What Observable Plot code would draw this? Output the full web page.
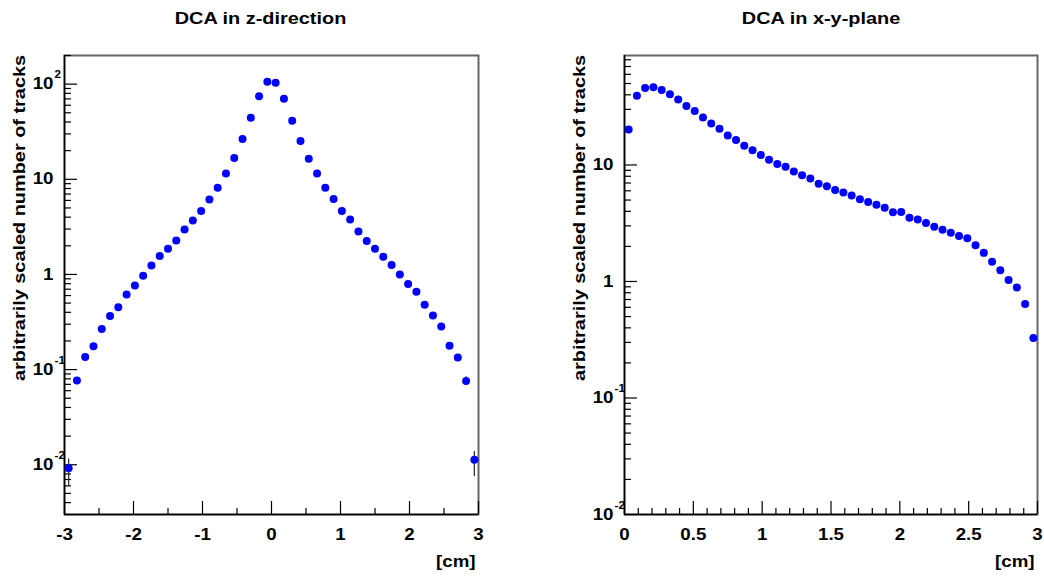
<!DOCTYPE html>
<html><head><meta charset="utf-8">
<script src="https://cdn.jsdelivr.net/npm/d3@7"></script>
<script src="https://cdn.jsdelivr.net/npm/@observablehq/plot@0.6"></script>
<style>
html,body{margin:0;padding:0;background:#fff;}
#wrap{display:flex;width:1044px;height:576px;}
svg text{font-family:"Liberation Sans",Arial,Helvetica,sans-serif;font-weight:bold;}
</style></head>
<body><div id="wrap"></div>
<script>
// ---------- data ----------
const zX = [-2.94,-2.82,-2.70,-2.58,-2.46,-2.34,-2.22,-2.10,-1.98,-1.86,-1.74,-1.62,-1.50,-1.38,-1.26,-1.14,-1.02,-0.90,-0.78,-0.66,-0.54,-0.42,-0.30,-0.18,-0.06,0.06,0.18,0.30,0.42,0.54,0.66,0.78,0.90,1.02,1.14,1.26,1.38,1.50,1.62,1.74,1.86,1.98,2.10,2.22,2.34,2.46,2.58,2.70,2.82,2.94];
const zY = [0.0092,0.077,0.136,0.176,0.267,0.365,0.451,0.614,0.767,0.966,1.24,1.56,1.86,2.28,2.97,3.68,4.63,6.14,8.16,11.5,16.7,26.5,44.3,74.7,106,103.6,70.2,41.3,25.3,16.4,11.5,8.16,6.2,4.63,3.78,2.82,2.24,1.86,1.53,1.26,1.0,0.794,0.659,0.48,0.371,0.284,0.178,0.134,0.076,0.0113];
const zErrX = [-2.94, 2.82, 2.94];
const zErrLo = [0.0060, 0.068, 0.0075];
const zErrHi = [0.0115, 0.084, 0.0138];

const xyX = [0.03,0.09,0.15,0.21,0.27,0.33,0.39,0.45,0.51,0.57,0.63,0.69,0.75,0.81,0.87,0.93,0.99,1.05,1.11,1.17,1.23,1.29,1.35,1.41,1.47,1.53,1.59,1.65,1.71,1.77,1.83,1.89,1.95,2.01,2.07,2.13,2.19,2.25,2.31,2.37,2.43,2.49,2.55,2.61,2.67,2.73,2.79,2.85,2.91,2.97];
const xyY = [20.2,39.3,45.7,46.4,44.1,40.4,36.5,32.0,29.1,25.5,22.7,20.5,17.9,16.4,14.6,13.4,12.2,11.1,10.2,9.64,8.77,8.16,7.64,6.9,6.56,6.1,5.79,5.47,5.08,4.8,4.56,4.3,3.92,3.95,3.53,3.41,3.17,2.95,2.78,2.62,2.46,2.35,2.05,1.76,1.48,1.25,1.03,0.889,0.64,0.328];

// tick labels
const zXTicks = [-3,-2,-1,0,1,2,3];
const zXTickLabels = ["-3","-2","-1","0","1","2","3"];
const zXMinor = [-2.5,-1.5,-0.5,0.5,1.5,2.5];
const zYTicks = [0.01,0.1,1,10,100];
const zYBase = ["10","10","1","10","10"];
const zYExp = ["-2","-1","","","2"];
const zYMinor = [0.003,0.004,0.005,0.006,0.007,0.008,0.009,0.02,0.03,0.04,0.05,0.06,0.07,0.08,0.09,0.2,0.3,0.4,0.5,0.6,0.7,0.8,0.9,2,3,4,5,6,7,8,9,20,30,40,50,60,70,80,90,200];

const xyXTicks = [0,0.5,1,1.5,2,2.5,3];
const xyXTickLabels = ["0","0.5","1","1.5","2","2.5","3"];
const xyXMinor = [0.1,0.2,0.3,0.4,0.6,0.7,0.8,0.9,1.1,1.2,1.3,1.4,1.6,1.7,1.8,1.9,2.1,2.2,2.3,2.4,2.6,2.7,2.8,2.9];
const xyYTicks = [0.01,0.1,1,10];
const xyYBase = ["10","10","1","10"];
const xyYExp = ["-2","-1","",""];
const xyYMinor = [0.02,0.03,0.04,0.05,0.06,0.07,0.08,0.09,0.2,0.3,0.4,0.5,0.6,0.7,0.8,0.9,2,3,4,5,6,7,8,9,20,30,40,50,60,70,80];

const yLabel = "arbitrarily scaled number of tracks";
const xUnit = "[cm]";

function panel(o) {
  const H = o.height - o.mt - o.mb;
  const W = o.width - o.ml - o.mr;
  const pts = o.xs.map((x, i) => ({x, y: o.ys[i]}));
  const errs = (o.ex || []).map((x, i) => ({x, lo: o.elo[i], hi: o.ehi[i]}));
  const xt = o.xTicks.map((v, i) => ({v, t: o.xLabels[i]}));
  const yt = o.yTicks.map((v, i) => ({v, b: o.yBase[i], e: o.yExp[i]}));
  return Plot.plot({
    width: o.width, height: o.height,
    marginLeft: o.ml, marginRight: o.mr, marginTop: o.mt, marginBottom: o.mb,
    style: {background: "white", overflow: "visible", fontFamily: "Liberation Sans, Arial, sans-serif"},
    x: {domain: o.xDomain, axis: null},
    y: {type: "log", domain: o.yDomain, axis: null},
    marks: [
      Plot.frame({stroke: "#666", strokeWidth: 2}),
      Plot.ruleX([o.xDomain[0]], {stroke: "#000", strokeWidth: 1.5}),
      Plot.ruleY([o.yDomain[0]], {stroke: "#000", strokeWidth: 1.5}),
      Plot.ruleX(o.xTicks, {x: d => d, insetTop: H - 13, stroke: "#000", strokeWidth: 1.2}),
      Plot.ruleX(o.xMinor, {x: d => d, insetTop: H - 6, stroke: "#000", strokeWidth: 1.2}),
      Plot.ruleY(o.yTicks, {y: d => d, insetRight: W - 13, stroke: "#000", strokeWidth: 1.2}),
      Plot.ruleY(o.yMinor, {y: d => d, insetRight: W - 7, stroke: "#000", strokeWidth: 1.2}),
      Plot.ruleX(errs, {x: "x", y1: "lo", y2: "hi", stroke: "#333", strokeWidth: 1.3}),
      Plot.dot(pts, {x: "x", y: "y", r: 4, fill: "#0000ff", stroke: "none"}),
      Plot.text(xt, {x: "v", text: "t", frameAnchor: "bottom", dy: 20, lineAnchor: "middle", fontSize: 16, fontWeight: "bold", fill: "#000"}),
      Plot.text(yt, {y: "v", text: "b", frameAnchor: "left", dx: -11, textAnchor: "end", lineAnchor: "middle", fontSize: 16, fontWeight: "bold", fill: "#000"}),
      Plot.text(yt.filter(d => d.e), {y: "v", text: "e", frameAnchor: "left", dx: -10, dy: -9, textAnchor: "start", lineAnchor: "middle", fontSize: 10, fontWeight: "bold", fill: "#000"}),
      Plot.text([o.title], {frameAnchor: "top", dx: o.titleDx, dy: -37, lineAnchor: "middle", fontSize: 17, fontWeight: "bold", fill: "#000"}),
      Plot.text([yLabel], {frameAnchor: "left", rotate: -90, textAnchor: "start", dx: -45, dy: o.yLabelDy, lineAnchor: "middle", fontSize: 17, fontWeight: "bold", fill: "#000"}),
      Plot.text([xUnit], {frameAnchor: "bottom-right", textAnchor: "end", dx: -3, dy: 47, lineAnchor: "middle", fontSize: 16, fontWeight: "bold", fill: "#000"})
    ]
  });
}

const left = panel({
  width: 560, height: 576, ml: 64, mr: 82, mt: 55, mb: 62,
  xs: zX, ys: zY, ex: zErrX, elo: zErrLo, ehi: zErrHi,
  xDomain: [-3, 3], yDomain: [0.003, 200],
  xTicks: zXTicks, xLabels: zXTickLabels, xMinor: zXMinor,
  yTicks: zYTicks, yBase: zYBase, yExp: zYExp, yMinor: zYMinor,
  title: "DCA in z-direction", titleDx: -11, yLabelDy: 96
});
const right = panel({
  width: 484, height: 576, ml: 64, mr: 7, mt: 55, mb: 62,
  xs: xyX, ys: xyY,
  xDomain: [0, 3], yDomain: [0.01, 87],
  xTicks: xyXTicks, xLabels: xyXTickLabels, xMinor: xyXMinor,
  yTicks: xyYTicks, yBase: xyYBase, yExp: xyYExp, yMinor: xyYMinor,
  title: "DCA in x-y-plane", titleDx: -10, yLabelDy: 96
});
const wrap = document.getElementById("wrap");
wrap.appendChild(left);
wrap.appendChild(right);
// widen glyphs slightly, like the reference rendering
for (const t of document.querySelectorAll("svg text")) {
  const w = t.getComputedTextLength();
  if (w > 0) {
    t.setAttribute("textLength", (w * 1.17).toFixed(1));
    t.setAttribute("lengthAdjust", "spacingAndGlyphs");
  }
}
</script></body></html>
